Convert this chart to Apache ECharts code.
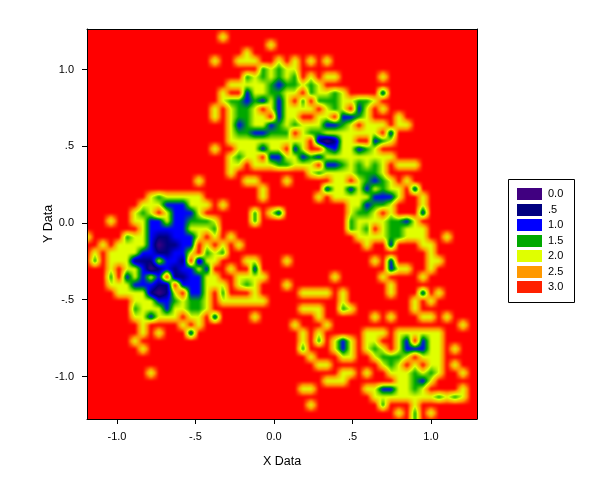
<!DOCTYPE html>
<html><head><meta charset="utf-8">
<style>html,body{margin:0;padding:0;background:#fff}#c{width:600px;height:502px}</style>
<script src="https://cdn.jsdelivr.net/npm/echarts@6/dist/echarts.min.js"></script>
</head><body><div id="c"></div>
<script>
const legendLevels = ['0.0','.5','1.0','1.5','2.0','2.5','3.0'];
const legendColors = ['#400080','#000080','#0000ff','#00a800','#e0ff00','#ff9900','#ff2000'];
const xTicks = [-1,-0.5,0,0.5,1];
const yTicks = [-1,-0.5,0,0.5,1];
const backgroundLevel = 3;
// grid rows (top to bottom): columns holding each level
const twoCells = [
[],[17],[23],[20],[16,19,20,21,24,26,28,30],[23,25,26],[21,23,25,28,30,31,37],[18,19,20,21,22,27,29],
[17,21,22,25,26,29,30,32],[17,23,25,32,33,36],[16,18,21,23,25,26,27,28,30,32,35,37],[16,18,21,22,25,26,29,30,35,39],
[18,21,22,25,27,28,29,33,35,36,37,39,40],[18,27,30,31,32,33,34,35,36],[18,19,20,21,22,23,24,25,26,27,32,33,38],[16,19,20,21,23,24,27,32,33,36],
[18,20,21,25,26,30,31,32,33,34,35,36,37,38],[18,19,21,22,23,26,27,28,33,35,37,39,40,41],[18,28,30,31,32,33,37],[14,20,21,25,31,32,34,38,40],
[22,31,32,34,36,38,39],[8,10,11,12,13,14,22,29,31,32,33,34,35,39,42],[7,8,9,13,14,15,17,33,34,38,42],[6,8,10,14,21,23,33,36,38],
[3,6,7,10,16,34,35,36,37,41],[7,13,14,15,34,37,40,41,42],[0,6,7,14,16,18,34,35,36,37,40,41,42,45],[2,4,5,6,7,15,17,19,35,42,43],
[1,3,4,5,6,13,16,43],[3,4,5,9,15,16,20,21,25,36,43,44],[3,5,6,14,18,39,40,43],[6,8,15,16,19,20,21,22,31,37,42],
[3,4,5,15,16,17,19,21,25,38],[4,5,6,7,11,15,21,27,28,29,30,32,38,44],[6,7,8,12,15,17,18,19,20,21,22,32,41,43],[7,8,9,11,12,15,27,28,29,33,41],
[6,7,9,10,11,13,14,21,29,36,38,42,43,45],[7,12,14,26,30,47],[7,9,27,29,35,36,37,39,40,41,42,43,44],[6,27,31,33,35,36,39,43,44],
[7,31,33,35,37,39,43,44,46],[28,32,33,36,40,42,43,44],[29,30,37,39,41,43,44,46],[8,32,33,35,38,39,40,42,44,47],[30,31,32,39,40,43],[27,28,35,36,39,40,42,47],
[36,37,38,39,40,41,42,43,45,47],[28,41],[39,43],[]
];
const oneCells = [
[],[],[],[],[],[22,24],[20,22,24,26],[23,24,25,26,28],
[20,23,24,28,31,37],[18,19,20,21,22,24,27,29,30,31,34,35],[19,20,24,31,34],[19,20,24,32,33,34],
[19,20,23,24,26,30,31,32],[19,20,21,22,23,24,25,28,29,38],[29,31,36,37],[22,26,30,31,34,35],
[19,23,24,27,28,29],[24,25,30,31,32,34,36],[29,34,35,36],[35,36,37],
[30,33,35,37,41],[9,36,37,38],[10,11,12,35,36,37],[7,11,12,13,21,24,34,35,42],
[8,9,11,12,13,14,15,21,33,38,39,40],[8,9,10,11,12,16,33,35,38,39],[5,8,9,10,11,12,13,38,39],[8,10,11,12,13,38],
[7,8,9,10,11,12,15,17],[1,6,7,10,11,12,14,38],[7,9,10,11,12,13,15,21,38],[3,5,7,9,11,12,13,14],
[6,7,8,10,12,13,14,20],[8,10,13,14,17,42],[9,10,11,13,14],[6,10,13,14,32],
[8,16],[],[13],[29,32,40,42],
[27,32,36,40,41,42],[37,38,39],[38],[41,43],[41,42],[37,38,41],
[44,46],[37],[41],[41]
];
// cells that read as 1.5 rather than 1.0
const softCells = {5:[22,24],6:[20,22,24,26],7:[23,25,26,28],8:[23,24,28,31],9:[18,19,21,27,29,30,31,34,35],10:[19,20,31],11:[19,20,34],
12:[20,24,26,32],13:[19,20,23,24,25,28,29],14:[37],15:[30,35],16:[19,28],17:[24,25,32,34,36],18:[29,34,35,36],19:[35,37],20:[37],21:[9],22:[36,37],23:[7,21,34,35],
24:[13,14,15,21,33,38,39],25:[16,33,35,38,39],26:[5,38,39],28:[15,17],29:[1],30:[],31:[3],32:[20],33:[17],34:[11,13,14],35:[6,13,14,32],
39:[29],40:[27,36],41:[37,38,39],42:[38],43:[41,43],44:[41],45:[41],46:[44,46],47:[37],48:[41],49:[41]};
const halfCells = {14:[29,31],26:[9,10],27:[10,11],28:[9,10],29:[6,7,8,12,14],30:[9,11],31:[11,12],32:[9,10],33:[8,10]};
const zeroCells = {14:[30],27:[9],30:[8],33:[9]};
const colourStops = ['#400080','#000080','#0000ff','#00a800','#e0ff00','#ff9900','#ff0000'];

const NX=50, NY=50, PITCH=8;
const xMin=-1.191, xMax=1.293, yMax=1.264, yMin=-1.277;
const xStep=PITCH/157, yStep=PITCH/153.5;
const z=[];
for(let j=0;j<NY;j++){const r=new Array(NX).fill(backgroundLevel);z.push(r);
  (twoCells[j]||[]).forEach(i=>r[i]=2);
  (oneCells[j]||[]).forEach(i=>r[i]=1);
  (softCells[j]||[]).forEach(i=>r[i]=1.5);
  (halfCells[j]||[]).forEach(i=>r[i]=0.5);
  (zeroCells[j]||[]).forEach(i=>r[i]=0);}
const rgb=colourStops.map(h=>[1,3,5].map(k=>parseInt(h.substr(k,2),16)));
function colour(v){v=Math.max(0,Math.min(3,v))*2;const a=Math.min(5,Math.floor(v)),t=v-a;
  return rgb[a].map((c,k)=>Math.round(c+(rgb[a+1][k]-c)*t));}
const at=(i,j)=>z[Math.max(0,Math.min(NY-1,j))][Math.max(0,Math.min(NX-1,i))];
function bil(gx,gy){const i=Math.floor(gx),j=Math.floor(gy),u=gx-i,w=gy-j;
  return (at(i,j)*(1-u)+at(i+1,j)*u)*(1-w)+(at(i,j+1)*(1-u)+at(i+1,j+1)*u)*w;}
const SOFT=[-1,0,1];
function cellCanvas(i,j){
  const cv=document.createElement('canvas');cv.width=cv.height=PITCH;const c=cv.getContext('2d');
  const im=c.createImageData(PITCH,PITCH);
  for(let y=0;y<PITCH;y++)for(let x=0;x<PITCH;x++){
    let v=0;
    SOFT.forEach(dy=>SOFT.forEach(dx=>{v+=bil(i+(x+.5+dx)/PITCH,j+(y+.5+dy)/PITCH);}));
    v/=9;
    const col=colour(v),p=(y*PITCH+x)*4;
    im.data[p]=col[0];im.data[p+1]=col[1];im.data[p+2]=col[2];im.data[p+3]=255;}
  c.putImageData(im,0,0);return cv;
}
function flat(i,j){for(let b=-1;b<=2;b++)for(let a=-1;a<=2;a++)if(at(i+a,j+b)!==3)return false;return true;}
const cells=[];
for(let j=0;j<NY-1;j++)for(let i=0;i<NX-1;i++)
  cells.push([xMin+i*xStep,yMax-j*yStep,i,j]);
const fmt=v=>{let s=Math.abs(v).toFixed(1);if(Math.abs(v)<1&&v!==0)s=s.slice(1);return (v<0?'-':'')+s;};
const font='"Liberation Sans",Arial,sans-serif';
const gr=[];
gr.push({type:'rect',shape:{x:508.5,y:179.5,width:66,height:123},style:{fill:'#fff',stroke:'#000',lineWidth:1}});
legendLevels.forEach((l,k)=>{
  const cy=194+k*15.5;
  gr.push({type:'rect',shape:{x:517,y:Math.round(cy-6),width:25,height:12},style:{fill:legendColors[k]}});
  gr.push({type:'text',x:548,y:cy,style:{text:l,fill:'#000',font:'11px '+font,verticalAlign:'middle'}});
});
const chart=echarts.init(document.getElementById('c'),null,{renderer:'canvas',devicePixelRatio:1});
const ax=(extra)=>Object.assign({type:'value',splitLine:{show:false},z:10,axisLine:{onZero:false,lineStyle:{color:'#000',width:1}}},extra);
chart.setOption({
  animation:false,backgroundColor:'#fff',
  grid:{left:87,top:29,width:390,height:390,containLabel:false},
  xAxis:[ax({min:xMin,max:xMax,position:'bottom',name:'X Data',nameLocation:'middle',nameGap:36,nameMoveOverlap:false,
        nameTextStyle:{color:'#000',fontSize:12.5,fontFamily:'Liberation Sans'},
        axisTick:{show:true,length:5,lineStyle:{color:'#000'},customValues:xTicks},
        axisLabel:{color:'#000',fontSize:11,fontFamily:'Liberation Sans',margin:12,customValues:xTicks,formatter:fmt}}),
      ax({min:xMin,max:xMax,position:'top',axisTick:{show:false},axisLabel:{show:false}})],
  yAxis:[ax({min:yMin,max:yMax,position:'left',name:'Y Data',nameLocation:'middle',nameGap:32,nameMoveOverlap:false,nameTextStyle:{color:'#000',fontSize:12.5,fontFamily:'Liberation Sans'},
        axisTick:{show:true,length:5,lineStyle:{color:'#000'},customValues:yTicks},
        axisLabel:{color:'#000',fontSize:11,fontFamily:'Liberation Sans',margin:13,customValues:yTicks,formatter:fmt}}),
      ax({min:yMin,max:yMax,position:'right',axisTick:{show:false},axisLabel:{show:false}})],
  graphic:{elements:gr},
  series:[{type:'custom',coordinateSystem:'cartesian2d',xAxisIndex:0,yAxisIndex:0,clip:true,silent:true,
    data:cells,encode:{x:0,y:1},
    renderItem(params,api){
      const i=api.value(2),j=api.value(3);
      const p=api.coord([api.value(0),api.value(1)]);
      const q=api.coord([api.value(0)+xStep,api.value(1)-yStep]);
      const x=Math.round(p[0]),y=Math.round(p[1]),w=Math.round(q[0])-x,h=Math.round(q[1])-y;
      if(flat(i,j))return {type:'rect',shape:{x,y,width:w,height:h},style:{fill:'#ff0000'}};
      return {type:'image',style:{image:cellCanvas(i,j),x,y,width:w,height:h}};
    }}]
});
</script></body></html>
